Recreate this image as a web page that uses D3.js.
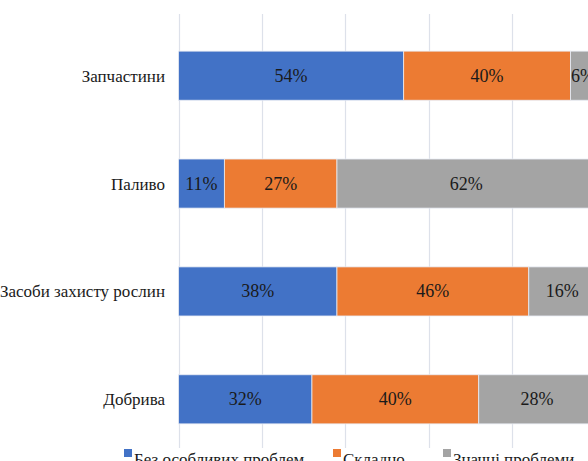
<!DOCTYPE html>
<html>
<head>
<meta charset="utf-8">
<script src="https://d3js.org/d3.v7.min.js"></script>
<style>
  body { margin: 0; background: #fff; }
</style>
</head>
<body>
<svg width="588" height="461"></svg>
<script>
  var categories = ["Запчастини", "Паливо", "Засоби захисту рослин", "Добрива"];
  var seriesNames = ["Без особливих проблем", "Складно", "Значні проблеми"];
  var noProblems = [54, 11, 38, 32];
  var difficult = [40, 27, 46, 40];
  var bigProblems = [6, 62, 16, 28];
  var gridTicks = [0, 20, 40, 60, 80, 100];

  var colors = ["#4272c6", "#ec7b33", "#a4a4a4"];

  var svg = d3.select("svg");

  var x = d3.scaleLinear().domain([0, 100]).range([178.5, 595.5]);
  var y = d3.scaleBand().domain(categories).range([22, 453])
    .paddingInner(0.545).paddingOuter(0.27);

  // gridlines
  svg.append("g")
    .selectAll("line")
    .data(gridTicks)
    .enter()
    .append("line")
    .attr("x1", function(d) { return Math.round(x(d)) + 0.5; })
    .attr("x2", function(d) { return Math.round(x(d)) + 0.5; })
    .attr("y1", 14)
    .attr("y2", 448)
    .attr("stroke", "#dde1ea")
    .attr("stroke-width", 1.2);

  var segs = [];
  categories.forEach(function(c, i) {
    var acc = 0;
    [noProblems[i], difficult[i], bigProblems[i]].forEach(function(v, j) {
      segs.push({ cat: c, s: j, x0: acc, x1: acc + v, v: v });
      acc += v;
    });
  });

  svg.append("g")
    .selectAll("rect")
    .data(segs)
    .enter()
    .append("rect")
    .attr("x", function(d) { return x(d.x0); })
    .attr("y", function(d) { return y(d.cat); })
    .attr("width", function(d) { return x(d.x1) - x(d.x0); })
    .attr("height", y.bandwidth())
    .attr("fill", function(d) { return colors[d.s]; })
    .attr("stroke", "#e8ecf4")
    .attr("stroke-width", 0.8);

  segs.forEach(function(d) {
    svg.append("text")
      .attr("x", (x(d.x0) + x(d.x1)) / 2)
      .attr("y", y(d.cat) + y.bandwidth() / 2 + 6)
      .attr("text-anchor", "middle")
      .style("font-family", "'Times New Roman'")
      .style("font-size", "18px")
      .attr("fill", "#1a1a1a")
      .text(d.v + "%");
  });

  // category labels
  categories.forEach(function(c) {
    svg.append("text")
      .attr("x", 165)
      .attr("y", y(c) + y.bandwidth() / 2 + 6)
      .attr("text-anchor", "end")
      .style("font-family", "'Times New Roman'")
      .style("font-size", "17px")
      .attr("fill", "#1a1a1a")
      .text(c);
  });

  // legend
  var legendX = [124, 333, 443];
  seriesNames.forEach(function(name, i) {
    svg.append("rect")
      .attr("x", legendX[i])
      .attr("y", 449)
      .attr("width", 8)
      .attr("height", 8)
      .attr("fill", colors[i]);
    svg.append("text")
      .attr("x", legendX[i] + 10)
      .attr("y", 465)
      .style("font-family", "'Times New Roman'")
      .style("font-size", "17px")
      .attr("fill", "#1a1a1a")
      .text(name);
  });
</script>
</body>
</html>
